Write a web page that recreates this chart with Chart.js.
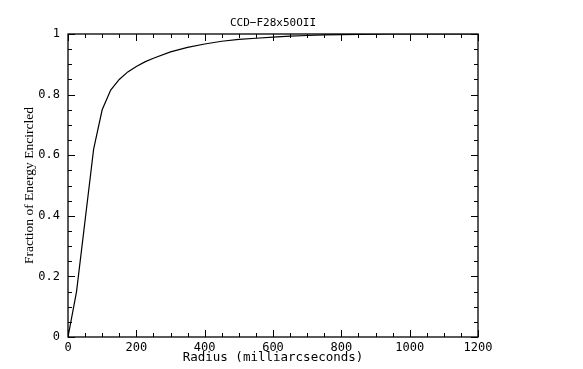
<!DOCTYPE html>
<html>
<head>
<meta charset="utf-8">
<script src="https://cdn.jsdelivr.net/npm/chart.js@4"></script>
<style>
html,body{margin:0;padding:0;background:#fff;}
#c{display:block;}
</style>
</head>
<body>
<canvas id="c" width="583" height="369"></canvas>
<script>
const chartTitle = "CCD\u2212F28x50OII";
const xTitle = "Radius (milliarcseconds)";
const yTitle = "Fraction of Energy Encircled";
const radius = [0, 25, 50, 75, 100, 125, 150, 175, 200, 225, 250, 300, 350, 400, 450, 500, 550, 600, 650, 700, 750, 800, 850, 900, 950, 1000, 1100, 1200];
const energy = [0, 0.15, 0.385, 0.62, 0.75, 0.815, 0.85, 0.875, 0.893, 0.908, 0.92, 0.941, 0.956, 0.967, 0.976, 0.982, 0.986, 0.99, 0.993, 0.995, 0.997, 0.998, 0.999, 0.9995, 1.0, 1.0, 1.0, 1.0];
const xRange = [0, 1200];
const yRange = [0, 1];
const xMajor = 200, xMinor = 50;
const yMajor = 0.2, yMinor = 0.05;

const mono = "'DejaVu Sans Mono', monospace";

const frameTicks = {
  id: 'frameTicks',
  afterDraw(chart) {
    const ctx = chart.ctx;
    const a = chart.chartArea;
    const xs = chart.scales.x, ys = chart.scales.y;
    ctx.save();
    ctx.strokeStyle = '#000';
    ctx.lineWidth = 1.3;
    ctx.strokeRect(a.left, a.top, a.right - a.left, a.bottom - a.top);
    ctx.lineWidth = 1;
    ctx.beginPath();
    const nx = Math.round((xRange[1] - xRange[0]) / xMinor);
    for (let i = 0; i <= nx; i++) {
      const v = xRange[0] + i * xMinor;
      const major = Math.abs(v / xMajor - Math.round(v / xMajor)) < 1e-6;
      const len = major ? 7 : 4;
      const px = Math.round(xs.getPixelForValue(v)) + 0.5;
      ctx.moveTo(px, a.bottom); ctx.lineTo(px, a.bottom - len);
      ctx.moveTo(px, a.top); ctx.lineTo(px, a.top + len);
    }
    const ny = Math.round((yRange[1] - yRange[0]) / yMinor);
    for (let i = 0; i <= ny; i++) {
      const v = yRange[0] + i * yMinor;
      const major = Math.abs(v / yMajor - Math.round(v / yMajor)) < 1e-6;
      const len = major ? 7 : 4;
      const py = Math.round(ys.getPixelForValue(v)) + 0.5;
      ctx.moveTo(a.left, py); ctx.lineTo(a.left + len, py);
      ctx.moveTo(a.right, py); ctx.lineTo(a.right - len, py);
    }
    ctx.stroke();
    ctx.restore();
  }
};

new Chart(document.getElementById('c'), {
  type: 'line',
  data: {
    datasets: [{
      data: radius.map((r, i) => ({x: r, y: energy[i]})),
      borderColor: '#000',
      borderWidth: 1.2,
      pointRadius: 0,
      tension: 0,
      fill: false
    }]
  },
  options: {
    responsive: false,
    animation: false,
    devicePixelRatio: 1,
    layout: {padding: {top: 0, right: 105, bottom: 0, left: 0}},
    plugins: {
      legend: {display: false},
      tooltip: {enabled: false},
      title: {
        display: true,
        text: chartTitle,
        fullSize: false,
        color: '#000',
        font: {family: mono, size: 11, weight: 'normal', lineHeight: 1.2},
        padding: {top: 16.4, bottom: 4.4}
      }
    },
    scales: {
      x: {
        type: 'linear',
        min: xRange[0], max: xRange[1],
        afterFit(s) { s.height = 32; },
        grid: {display: false, drawTicks: false},
        border: {display: false},
        ticks: {
          stepSize: xMajor,
          padding: 4,
          color: '#000',
          maxRotation: 0,
          font: {family: mono, size: 12},
          callback: v => String(v)
        },
        title: {
          display: true, text: xTitle, color: '#000',
          font: {family: mono, size: 12.5, lineHeight: 1.2},
          padding: {top: 0, bottom: 3.5}
        }
      },
      y: {
        type: 'linear',
        min: yRange[0], max: yRange[1],
        afterFit(s) { s.width = 68; },
        grid: {display: false, drawTicks: false},
        border: {display: false},
        ticks: {
          stepSize: yMajor,
          padding: 8,
          color: '#000',
          font: {family: mono, size: 12},
          callback: v => String(Math.round(v * 10) / 10)
        },
        title: {
          display: true, text: yTitle, color: '#000',
          font: {family: "'Liberation Serif', serif", size: 13.5, lineHeight: 1.2},
          padding: {top: 21, bottom: 0}
        }
      }
    }
  },
  plugins: [frameTicks]
});
</script>
</body>
</html>
